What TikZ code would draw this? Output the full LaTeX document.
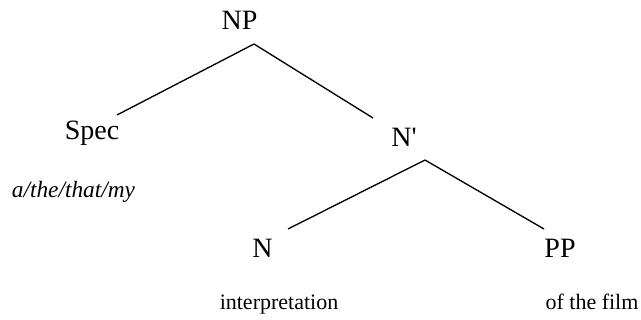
\documentclass[tikz,border=0pt]{standalone}
\usepackage{fontspec}
\setmainfont{Liberation Serif}
\usepackage{tikz}

\tikzset{
  cat/.style={font=\fontsize{21}{24}\selectfont, inner sep=0pt, anchor=base},
  word/.style={font=\fontsize{16.5}{19}\selectfont, inner sep=0pt, anchor=base},
  branch/.style={line width=1pt}
}

\begin{document}
\begin{tikzpicture}[x=0.75pt, y=-0.75pt]
  \useasboundingbox (0,0) rectangle (641,320);
  % --- categories ---
  \node[cat] (NP)   at (239.5,30) {NP};
  \node[cat] (Spec) at (92,140)   {Spec};
  \node[cat] (Nbar) at (404,147)  {N\textquotesingle};
  \node[cat] (N)    at (262.5,257) {N};
  \node[cat] (PP)   at (560,257)  {PP};
  % --- words ---
  \node[word, font=\fontsize{17.5}{20}\selectfont\itshape] (det) at (73.5,197) {a/the/that/my};
  \node[word] (interp) at (279,309)  {interpretation};
  \node[word] (film)   at (592,309)  {of the film};
  % --- branches ---
  \coordinate (NP-fork)   at ([shift={(14.5,14)}]NP.base);
  \coordinate (Nbar-fork) at ([shift={(21,13)}]Nbar.base);
  \draw[branch] (NP-fork) -- ([shift={(25,-25)}]Spec.base);
  \draw[branch] (NP-fork) -- ([shift={(-31,-29)}]Nbar.base);
  \draw[branch] (Nbar-fork) -- ([shift={(25.5,-28)}]N.base);
  \draw[branch] (Nbar-fork) -- ([shift={(-16,-28)}]PP.base);
\end{tikzpicture}
\end{document}
